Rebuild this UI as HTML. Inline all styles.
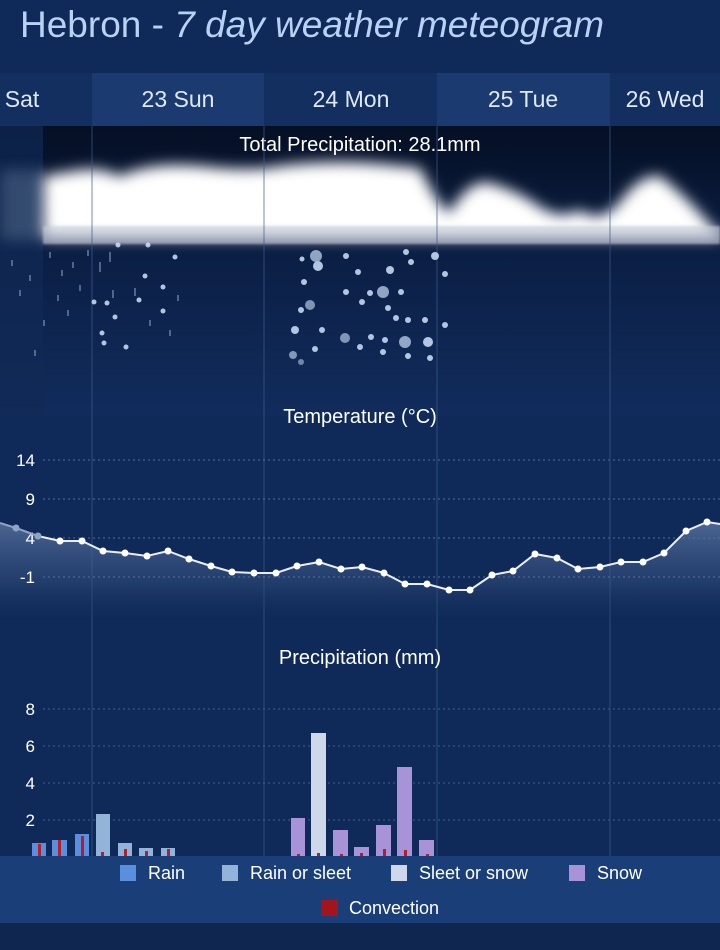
<!DOCTYPE html>
<html><head><meta charset="utf-8"><style>
html,body{margin:0;padding:0;background:#0e2856;}
svg{display:block;font-family:"Liberation Sans",sans-serif;}
</style></head><body>
<svg width="720" height="950" viewBox="0 0 720 950" xmlns="http://www.w3.org/2000/svg">
<defs>
<linearGradient id="sky" x1="0" y1="0" x2="0" y2="1">
<stop offset="0" stop-color="#050f24"/><stop offset="0.45" stop-color="#0b1f45"/><stop offset="1" stop-color="#112c5c"/>
</linearGradient>
<linearGradient id="tfill" x1="0" y1="520" x2="0" y2="625" gradientUnits="userSpaceOnUse">
<stop offset="0" stop-color="#5a73a0" stop-opacity="0.85"/><stop offset="0.6" stop-color="#34507f" stop-opacity="0.5"/><stop offset="1" stop-color="#0f2a58" stop-opacity="0"/>
</linearGradient>
<filter id="blur" x="-10%" y="-30%" width="120%" height="160%"><feGaussianBlur stdDeviation="7"/></filter>
<filter id="b1"><feGaussianBlur stdDeviation="1"/></filter>
</defs>
<rect width="720" height="950" fill="#0f2a58"/>
<rect width="720" height="73" fill="#0f2a58"/>
<text x="20" y="37" font-size="37" fill="#b8d2f4">Hebron - <tspan font-style="italic">7 day weather meteogram</tspan></text>
<rect x="0" y="73" width="720" height="53" fill="#132f60"/>
<rect x="92" y="73" width="172" height="53" fill="#1a3a70"/>
<rect x="437" y="73" width="173" height="53" fill="#1a3a70"/>
<g font-size="23" fill="#dfe8f6" text-anchor="middle">
<text x="22" y="107">Sat</text><text x="178" y="107">23 Sun</text><text x="351" y="107">24 Mon</text><text x="523" y="107">25 Tue</text><text x="665" y="107">26 Wed</text>
</g>
<rect x="0" y="126" width="720" height="730" fill="#0f2a58"/>
<rect x="0" y="126" width="720" height="290" fill="url(#sky)"/>
<rect x="0" y="126" width="43" height="290" fill="#112a55" opacity="0.7"/>
<rect x="0" y="170" width="43" height="70" fill="#3c5478" opacity="0.8" filter="url(#blur)"/>
<path filter="url(#blur)" fill="#ffffff" d="M43,176 L80,170 Q100,167 120,176 Q150,162 200,166 Q250,172 280,166 Q330,160 380,164 L420,168 Q440,210 450,212 Q470,178 490,183 Q520,192 540,207 Q560,220 580,210 Q600,225 620,202 Q640,174 660,176 Q690,200 710,225 L720,232 L720,238 L43,238 Z"/>
<rect x="43" y="226" width="677" height="18" fill="#c9cfdc" opacity="0.6" filter="url(#b1)"/>
<text x="360" y="151" font-size="20" fill="#ffffff" text-anchor="middle">Total Precipitation: 28.1mm</text>
<g stroke="#3d5b8c" stroke-width="1" opacity="0.7">
<line x1="92" y1="126" x2="92" y2="856"/><line x1="264" y1="126" x2="264" y2="856"/><line x1="437" y1="126" x2="437" y2="856"/><line x1="610" y1="126" x2="610" y2="856"/>
</g>
<g fill="#cfe3fb" opacity="0.85">
<circle cx="148" cy="245" r="2.5"/><circle cx="175" cy="257" r="2.5"/><circle cx="145" cy="276" r="2.5"/><circle cx="163" cy="287" r="2.5"/><circle cx="94" cy="302" r="2.5"/><circle cx="107" cy="303" r="2.5"/><circle cx="139" cy="300" r="2.5"/><circle cx="115" cy="317" r="2.5"/><circle cx="102" cy="333" r="2.5"/><circle cx="104" cy="343" r="2.5"/><circle cx="163" cy="311" r="2.5"/><circle cx="126" cy="347" r="2.5"/><circle cx="118" cy="245" r="2.5"/>
<circle cx="316" cy="256" r="6" opacity="0.8"/><circle cx="318" cy="266" r="5"/><circle cx="302" cy="259" r="2.5"/><circle cx="304" cy="282" r="3"/><circle cx="301" cy="310" r="3"/><circle cx="310" cy="305" r="5" opacity="0.7"/><circle cx="295" cy="330" r="4"/><circle cx="322" cy="330" r="3"/><circle cx="293" cy="355" r="4" opacity="0.7"/><circle cx="346" cy="256" r="3"/><circle cx="358" cy="272" r="3"/><circle cx="346" cy="292" r="3"/><circle cx="370" cy="293" r="3"/><circle cx="383" cy="292" r="6" opacity="0.8"/><circle cx="401" cy="292" r="3"/><circle cx="390" cy="270" r="4"/><circle cx="406" cy="252" r="3"/><circle cx="435" cy="256" r="4"/><circle cx="411" cy="262" r="3"/><circle cx="445" cy="274" r="3"/><circle cx="362" cy="302" r="3"/><circle cx="388" cy="308" r="3"/><circle cx="396" cy="318" r="3"/><circle cx="408" cy="320" r="3"/><circle cx="425" cy="320" r="3"/><circle cx="445" cy="325" r="3"/><circle cx="345" cy="338" r="5" opacity="0.7"/><circle cx="385" cy="340" r="3"/><circle cx="405" cy="342" r="6" opacity="0.8"/><circle cx="428" cy="342" r="5"/><circle cx="360" cy="347" r="3"/><circle cx="371" cy="337" r="3"/><circle cx="383" cy="352" r="3"/><circle cx="408" cy="356" r="3"/><circle cx="430" cy="358" r="3"/><circle cx="315" cy="349" r="3"/><circle cx="301" cy="362" r="3" opacity="0.6"/>
</g>
<g stroke="#9fbbe0" stroke-width="1.5" opacity="0.6">
<line x1="50" y1="252" x2="50" y2="258"/><line x1="62" y1="270" x2="62" y2="276"/><line x1="58" y1="295" x2="58" y2="301"/><line x1="73" y1="262" x2="73" y2="268"/><line x1="80" y1="285" x2="80" y2="291"/><line x1="88" y1="250" x2="88" y2="256"/><line x1="68" y1="310" x2="68" y2="316"/><line x1="44" y1="320" x2="44" y2="326"/><line x1="100" y1="262" x2="100" y2="272"/><line x1="110" y1="252" x2="110" y2="262"/><line x1="113" y1="290" x2="113" y2="298"/><line x1="135" y1="288" x2="135" y2="296"/><line x1="150" y1="320" x2="150" y2="326"/><line x1="178" y1="295" x2="178" y2="301"/><line x1="170" y1="330" x2="170" y2="336"/><line x1="12" y1="260" x2="12" y2="266"/><line x1="20" y1="290" x2="20" y2="296"/><line x1="30" y1="275" x2="30" y2="281"/><line x1="35" y1="350" x2="35" y2="356"/>
</g>
<text x="360" y="423" font-size="20" fill="#ffffff" text-anchor="middle">Temperature (°C)</text>
<path fill="url(#tfill)" d="M0,523 L16,528 L38,536 L60,541 L82,541 L103,551 L125,553 L147,556 L168,551 L189,559 L211,566 L232,572 L254,573 L276,573 L297,566 L319,562 L341,569 L362,567 L384,573 L405,584 L427,584 L449,590 L470,590 L492,575 L513,571 L535,554 L557,558 L578,569 L600,567 L621,562 L643,562 L664,553 L686,531 L707,522 L720,524 L720,625 L0,625 Z"/>
<g stroke="#4f6ea0" stroke-dasharray="2,3" stroke-width="1">
<line x1="43" y1="460" x2="720" y2="460"/><line x1="43" y1="499" x2="720" y2="499"/><line x1="43" y1="538" x2="720" y2="538"/><line x1="43" y1="577" x2="720" y2="577"/>
</g>
<g font-size="17" fill="#ffffff" text-anchor="end">
<text x="35" y="466">14</text><text x="35" y="505">9</text><text x="35" y="544">4</text><text x="35" y="583">-1</text>
</g>
<polyline fill="none" stroke="#e8eef8" stroke-width="2" points="38,536 60,541 82,541 103,551 125,553 147,556 168,551 189,559 211,566 232,572 254,573 276,573 297,566 319,562 341,569 362,567 384,573 405,584 427,584 449,590 470,590 492,575 513,571 535,554 557,558 578,569 600,567 621,562 643,562 664,553 686,531 707,522 720,524"/>
<polyline fill="none" stroke="#8ea4c4" stroke-width="2" points="0,523 16,528 38,536"/>
<g fill="#ffffff">
<circle cx="60" cy="541" r="3.5"/><circle cx="82" cy="541" r="3.5"/><circle cx="103" cy="551" r="3.5"/><circle cx="125" cy="553" r="3.5"/><circle cx="147" cy="556" r="3.5"/><circle cx="168" cy="551" r="3.5"/><circle cx="189" cy="559" r="3.5"/><circle cx="211" cy="566" r="3.5"/><circle cx="232" cy="572" r="3.5"/><circle cx="254" cy="573" r="3.5"/><circle cx="276" cy="573" r="3.5"/><circle cx="297" cy="566" r="3.5"/><circle cx="319" cy="562" r="3.5"/><circle cx="341" cy="569" r="3.5"/><circle cx="362" cy="567" r="3.5"/><circle cx="384" cy="573" r="3.5"/><circle cx="405" cy="584" r="3.5"/><circle cx="427" cy="584" r="3.5"/><circle cx="449" cy="590" r="3.5"/><circle cx="470" cy="590" r="3.5"/><circle cx="492" cy="575" r="3.5"/><circle cx="513" cy="571" r="3.5"/><circle cx="535" cy="554" r="3.5"/><circle cx="557" cy="558" r="3.5"/><circle cx="578" cy="569" r="3.5"/><circle cx="600" cy="567" r="3.5"/><circle cx="621" cy="562" r="3.5"/><circle cx="643" cy="562" r="3.5"/><circle cx="664" cy="553" r="3.5"/><circle cx="686" cy="531" r="3.5"/><circle cx="707" cy="522" r="3.5"/>
</g>
<g fill="#8ea4c4"><circle cx="16" cy="528" r="3.5"/><circle cx="38" cy="536" r="3.5"/></g>
<text x="360" y="664" font-size="20" fill="#ffffff" text-anchor="middle">Precipitation (mm)</text>
<g stroke="#3f5d8f" stroke-dasharray="2,3" stroke-width="1">
<line x1="43" y1="709" x2="720" y2="709"/><line x1="43" y1="746" x2="720" y2="746"/><line x1="43" y1="783" x2="720" y2="783"/><line x1="43" y1="820" x2="720" y2="820"/>
</g>
<g font-size="17" fill="#ffffff" text-anchor="end">
<text x="35" y="715">8</text><text x="35" y="752">6</text><text x="35" y="789">4</text><text x="35" y="826">2</text>
</g>
<g>
<rect x="32" y="843" width="14" height="13" fill="#5a8fe0"/>
<rect x="52" y="840" width="15" height="16" fill="#5a8fe0"/>
<rect x="75" y="834" width="14" height="22" fill="#5a8fe0"/>
<rect x="96" y="814" width="14" height="42" fill="#93b3d8"/>
<rect x="118" y="843" width="14" height="13" fill="#93b3d8"/>
<rect x="139" y="848" width="14" height="8" fill="#93b3d8"/>
<rect x="161" y="848" width="14" height="8" fill="#93b3d8"/>
<rect x="291" y="818" width="14" height="38" fill="#a893d8"/>
<rect x="311" y="733" width="15" height="123" fill="#cfd8ea"/>
<rect x="333" y="830" width="15" height="26" fill="#a893d8"/>
<rect x="354" y="847" width="15" height="9" fill="#a893d8"/>
<rect x="376" y="825" width="15" height="31" fill="#a893d8"/>
<rect x="397" y="767" width="15" height="89" fill="#a893d8"/>
<rect x="419" y="840" width="15" height="16" fill="#a893d8"/>
</g>
<g fill="#b0202a">
<rect x="38" y="844" width="3" height="12"/><rect x="58" y="840" width="3" height="16"/><rect x="81" y="836" width="3" height="20"/><rect x="101" y="852" width="3" height="4"/><rect x="124" y="849" width="3" height="7"/><rect x="145" y="851" width="3" height="5"/><rect x="167" y="849" width="3" height="7"/>
<rect x="297" y="854" width="3" height="2"/><rect x="317" y="853" width="3" height="3"/><rect x="340" y="854" width="3" height="2"/><rect x="360" y="853" width="3" height="3"/><rect x="383" y="849" width="3" height="7"/><rect x="404" y="850" width="3" height="6"/><rect x="426" y="854" width="3" height="2"/>
</g>
<rect x="0" y="856" width="720" height="67" fill="#1a3f78"/>
<rect x="0" y="923" width="720" height="27" fill="#0f2650"/>
<g font-size="18" fill="#ffffff">
<rect x="120" y="865" width="16" height="16" fill="#5a8fe0"/><text x="148" y="879">Rain</text>
<rect x="222" y="865" width="16" height="16" fill="#93b3d8"/><text x="250" y="879">Rain or sleet</text>
<rect x="391" y="865" width="16" height="16" fill="#cfd8ea"/><text x="419" y="879">Sleet or snow</text>
<rect x="569" y="865" width="16" height="16" fill="#a893d8"/><text x="597" y="879">Snow</text>
<rect x="321" y="900" width="17" height="16" fill="#a3141c"/><text x="349" y="914">Convection</text>
</g>
</svg>
</body></html>
